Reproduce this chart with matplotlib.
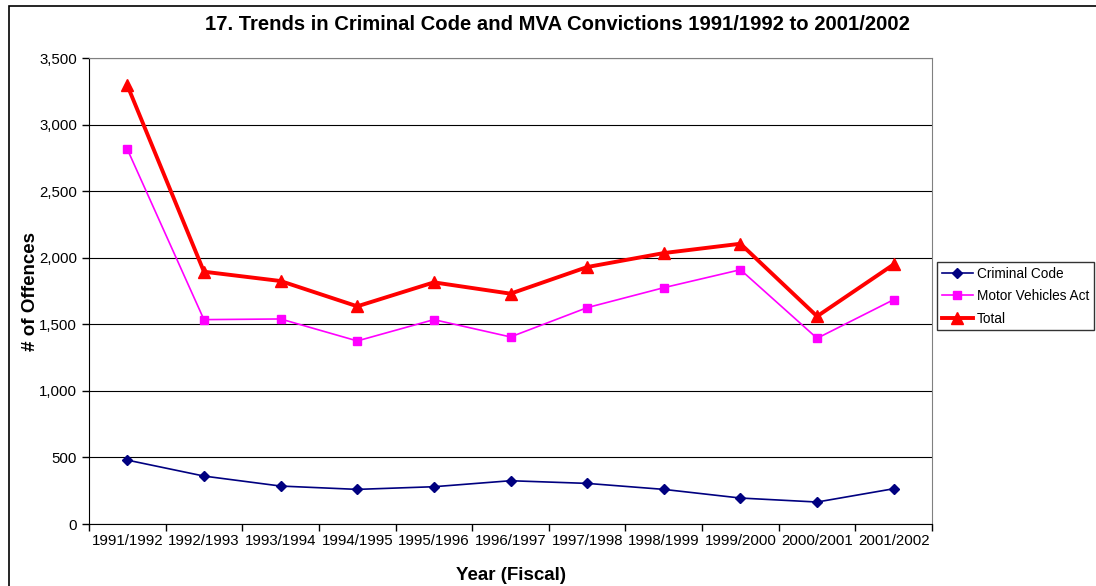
# Criminal Code and MVA convictions, 1991/1992 to 2001/2002

import numpy as np
import matplotlib.pyplot as plt
from matplotlib.patches import Rectangle
from matplotlib.ticker import FuncFormatter

plt.rcParams['font.family'] = ['Liberation Sans', 'DejaVu Sans']

years = ["1991/1992", "1992/1993", "1993/1994", "1994/1995", "1995/1996", "1996/1997",
         "1997/1998", "1998/1999", "1999/2000", "2000/2001", "2001/2002"]
criminal_code = [480, 360, 285, 260, 280, 325, 305, 260, 195, 165, 265]
motor_vehicles = [2815, 1535, 1540, 1375, 1535, 1405, 1625, 1775, 1910, 1395, 1685]
total = [3295, 1895, 1825, 1635, 1815, 1730, 1930, 2035, 2105, 1560, 1950]

x = np.arange(len(years))

fig = plt.figure(figsize=(10.96, 5.86), dpi=100)
ax = fig.add_axes([0.0812, 0.1058, 0.7692, 0.7952])

ax.plot(x, criminal_code, color='#000080', marker='D', markersize=5, linewidth=1.2, label="Criminal Code")
ax.plot(x, motor_vehicles, color='#FF00FF', marker='s', markersize=5.5, linewidth=1.2, label="Motor Vehicles Act")
ax.plot(x, total, color='#FF0000', marker='^', markersize=9, linewidth=2.8, label="Total")

ax.set_xlim(-0.5, len(years) - 0.5)
ax.set_ylim(0, 3500)
ax.set_yticks(np.arange(0, 3501, 500))
ax.yaxis.set_major_formatter(FuncFormatter(lambda v, p: f"{int(v):,}"))
ax.grid(axis='y', color='black', linewidth=0.8)
ax.set_axisbelow(True)

# tick marks on category boundaries, labels centred
ax.set_xticks(np.arange(-0.5, len(years)))
ax.set_xticklabels([])
ax.set_xticks(x, minor=True)
ax.set_xticklabels(years, minor=True)
ax.tick_params(axis='x', which='minor', length=0, labelsize=10.8, pad=7)
ax.tick_params(axis='x', which='major', length=5, width=1, direction='out')
ax.tick_params(axis='y', length=5, width=1, direction='out', labelsize=10.8)

for side in ['top', 'right']:
    ax.spines[side].set_color('#808080')
for side in ['left', 'bottom']:
    ax.spines[side].set_color('black')

fig.suptitle("17. Trends in Criminal Code and MVA Convictions 1991/1992 to 2001/2002",
             x=0.509, y=0.975, fontsize=14.6, fontweight='bold')
ax.set_xlabel("Year (Fiscal)", fontsize=13.5, fontweight='bold', labelpad=14)
ax.set_ylabel("# of Offences", fontsize=13.5, fontweight='bold', labelpad=0)

fig.legend(loc='upper left', bbox_to_anchor=(0.855, 0.553), fontsize=9.8,
           frameon=True, fancybox=False, edgecolor='black', borderpad=0.35,
           handlelength=2.3, labelspacing=0.62, handletextpad=0.3, borderaxespad=0)

fig.patches.append(Rectangle((0.008, -0.01), 1.0, 1.0, transform=fig.transFigure,
                             fill=False, edgecolor='black', linewidth=1.2))

plt.savefig("out.png", dpi=100)
